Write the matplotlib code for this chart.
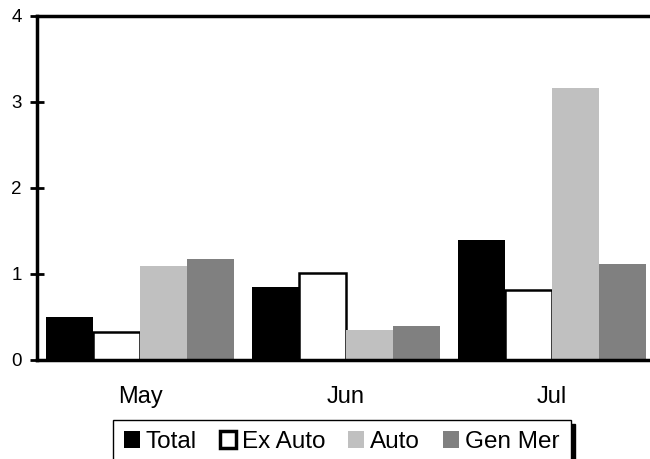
import numpy as np
import matplotlib
matplotlib.use("Agg")
import matplotlib.pyplot as plt

plt.rcParams['font.family'] = ['Liberation Sans', 'DejaVu Sans']

months = ["May", "Jun", "Jul"]
series = ["Total", "Ex Auto", "Auto", "Gen Mer"]
total = [0.50, 0.85, 1.40]
ex_auto = [0.32, 1.01, 0.81]
auto = [1.09, 0.35, 3.16]
gen_mer = [1.17, 0.39, 1.12]

values = [total, ex_auto, auto, gen_mer]
faces = ["black", "white", "#C0C0C0", "#808080"]
edges = ["black", "black", "#C0C0C0", "#808080"]
lws = [0, 1.8, 0, 0]

fig = plt.figure(figsize=(6.5, 4.59), dpi=100)
ax = fig.add_axes([37/650, (459-360)/459, 618/650, 344/459])

x = np.arange(len(months))
w = 0.228
for i, (vals, fc, ec, lw) in enumerate(zip(values, faces, edges, lws)):
    ax.bar(x + (i - 1.5) * w, vals, w, color=fc, edgecolor=ec, linewidth=lw,
           label=series[i], zorder=2)

ax.set_xlim(-0.5, 2.5)
ax.set_ylim(0, 4)
ax.set_yticks([0, 1, 2, 3, 4])
ax.set_xticks(x)
ax.set_xticklabels(months, fontsize=17)
ax.tick_params(axis='x', length=0, pad=19)
ax.tick_params(axis='y', direction='inout', length=10, width=2, labelsize=13.5, pad=6)

ax.spines['right'].set_visible(False)
for s in ['left', 'bottom', 'top']:
    ax.spines[s].set_linewidth(2.5)
    ax.spines[s].set_color('black')

leg = ax.legend(loc='upper left', bbox_to_anchor=(113/650, 39/459),
                bbox_transform=fig.transFigure, ncol=4, frameon=True,
                fancybox=False, edgecolor='black', fontsize=17.5,
                handlelength=0.65, handleheight=0.65, handletextpad=0.25,
                columnspacing=0.95, borderpad=0.45, borderaxespad=0,
                shadow={'color': 'black', 'alpha': 1, 'ox': 3, 'oy': -3})
leg.get_frame().set_linewidth(1)
leg.legend_handles[1].set_linewidth(2.5)

fig.savefig("out.png", dpi=100)
